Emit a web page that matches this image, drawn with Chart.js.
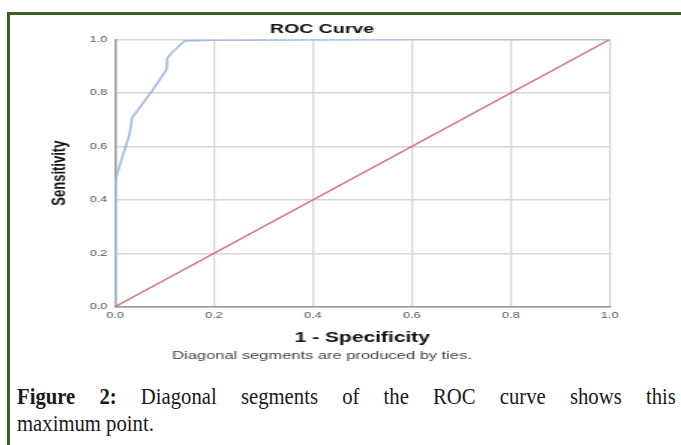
<!DOCTYPE html>
<html>
<head>
<meta charset="utf-8">
<script src="https://cdn.jsdelivr.net/npm/chart.js@4/dist/chart.umd.min.js"></script>
<style>
  body { margin: 0; background: #fff; width: 681px; height: 445px; overflow: hidden; position: relative; }
  #frame { position: absolute; left: 7px; top: 12px; width: 690px; height: 450px;
           border-left: 3px solid #3b6126; border-top: 3px solid #3b6126; }
  #roc { position: absolute; left: 17px; top: 14px; }
  .cap { position: absolute; left: 17px; width: 732px; transform: scaleX(0.9); transform-origin: 0 0;
         font-family: "Liberation Serif", "DejaVu Serif", serif; font-size: 23px; line-height: 27px;
         color: #1a1a1a; white-space: nowrap; }
  #cap1 { top: 383px; text-align: justify; text-align-last: justify; white-space: normal; }
  #cap2 { top: 410px; }
</style>
</head>
<body>
<div id="frame"></div>
<!-- the source picture is stretched sideways, so the canvas is drawn 407 wide and shown 610 wide -->
<canvas id="roc" width="407" height="354" style="width:610px;height:354px"></canvas>
<div class="cap" id="cap1"><b>Figure 2:</b> Diagonal segments of the ROC curve shows this</div>
<div class="cap" id="cap2">maximum point.</div>
<script>
// ROC curve points
var rocX = [0, 0, 0.003, 0.013, 0.024, 0.030, 0.035, 0.044, 0.074, 0.104, 0.106, 0.114, 0.141, 0.2, 0.4, 0.6, 1.0];
var rocY = [0, 0.45, 0.487, 0.549, 0.612, 0.65, 0.709, 0.73, 0.805, 0.887, 0.93, 0.949, 0.995, 0.997, 0.999, 1.0, 1.0];
// reference line
var refX = [0, 1];
var refY = [0, 1];
var tickValues = [0, 0.2, 0.4, 0.6, 0.8, 1.0];

function toPoints(xs, ys) {
  return xs.map(function (x, i) { return { x: x, y: ys[i] }; });
}
function fixedTicks(axis) {
  axis.ticks = tickValues.map(function (v) { return { value: v }; });
}

var ctx = document.getElementById('roc').getContext('2d');
var chart = new Chart(ctx, {
  type: 'scatter',
  data: {
    datasets: [
      {
        label: 'Reference',
        data: toPoints(refX, refY),
        showLine: true,
        borderColor: '#d26b80',
        borderWidth: 1.4,
        pointRadius: 0
      },
      {
        label: 'ROC',
        data: toPoints(rocX, rocY),
        showLine: true,
        borderColor: '#9dbde2',
        borderWidth: 1.6,
        pointRadius: 0
      }
    ]
  },
  options: {
    responsive: false,
    devicePixelRatio: 1,
    animation: false,
    layout: { padding: { left: 11.5, right: 11.5, top: 0, bottom: 0 } },
    plugins: {
      legend: { display: false },
      tooltip: { enabled: false },
      title: {
        display: true,
        text: 'ROC Curve',
        color: '#111',
        font: { family: 'Liberation Sans, Arial', size: 13, weight: 'bold' },
        padding: { top: 7.4, bottom: 2.5 }
      },
      subtitle: {
        display: true,
        position: 'bottom',
        text: 'Diagonal segments are produced by ties.',
        color: '#444',
        font: { family: 'Liberation Sans, Arial', size: 11 },
        padding: { top: 2.8, bottom: 5.9 }
      }
    },
    scales: {
      x: {
        type: 'linear',
        min: 0,
        max: 1,
        afterBuildTicks: fixedTicks,
        ticks: {
          color: '#555',
          font: { family: 'Liberation Sans, Arial', size: 8.5 },
          padding: 3.3,
          callback: function (v) { return v.toFixed(1); }
        },
        grid: { color: '#d6d6d6', lineWidth: 1.3, drawTicks: false },
        border: { color: '#9a9a9a', width: 1.5 },
        title: {
          display: true,
          text: '1 - Specificity',
          color: '#111',
          font: { family: 'Liberation Sans, Arial', size: 14, weight: 'bold' },
          padding: { top: 5.7, bottom: 0 }
        }
      },
      y: {
        type: 'linear',
        min: 0,
        max: 1,
        afterBuildTicks: fixedTicks,
        ticks: {
          color: '#555',
          font: { family: 'Liberation Sans, Arial', size: 8.5 },
          padding: 5,
          callback: function (v) { return v.toFixed(1); }
        },
        grid: { color: '#d6d6d6', lineWidth: 1.5, drawTicks: false },
        border: { color: '#9a9a9a', width: 1.5 },
        title: {
          display: true,
          text: 'Sensitivity',
          color: '#111',
          font: { family: 'Liberation Sans, Arial', size: 13, weight: 'bold' },
          padding: { top: 9.4, bottom: 7.0 }
        }
      }
    }
  }
});
</script>
</body>
</html>
